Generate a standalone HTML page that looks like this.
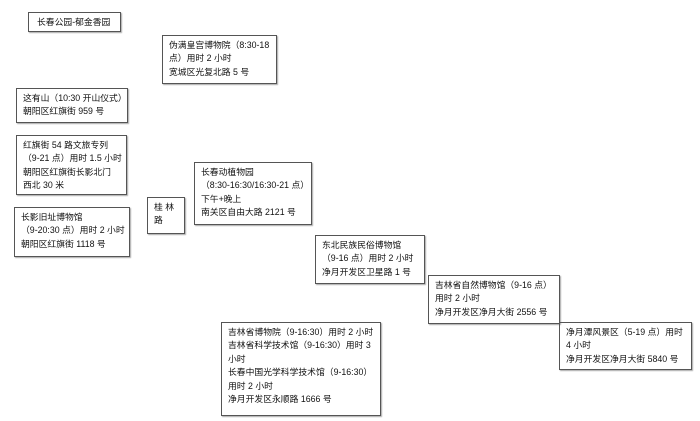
<!DOCTYPE html>
<html><head><meta charset="utf-8"><style>
body{margin:0;width:700px;height:421px;background:#fff;position:relative;overflow:hidden;font-family:"Liberation Sans","Noto Sans CJK SC",sans-serif;}
.b{position:absolute;box-sizing:border-box;border:1px solid #555;box-shadow:1px 1px 1px #aaa;font-size:8.8px;line-height:13.4px;color:#111;padding:3px 0 0 6px;white-space:nowrap;overflow:hidden;}
</style></head><body>
<div class="b" style="left:28px;top:12px;width:93px;height:20px;padding-top:3px;padding-left:8px">长春公园-郁金香园</div>
<div class="b" style="left:162px;top:35px;width:115px;height:49px">伪满皇宫博物院（8:30-18<br>点）用时 2 小时<br>宽城区光复北路 5 号</div>
<div class="b" style="left:16px;top:88px;width:112px;height:35px">这有山（10:30 开山仪式）<br>朝阳区红旗街 959 号</div>
<div class="b" style="left:16px;top:135px;width:111px;height:60px">红旗街 54 路文旅专列<br>（9-21 点）用时 1.5 小时<br>朝阳区红旗街长影北门<br>西北 30 米</div>
<div class="b" style="left:14px;top:207px;width:116px;height:50px">长影旧址博物馆<br>（9-20:30 点）用时 2 小时<br>朝阳区红旗街 1118 号</div>
<div class="b" style="left:147px;top:197px;width:38px;height:37px;padding-left:6px">桂 林<br>路</div>
<div class="b" style="left:194px;top:162px;width:118px;height:63px">长春动植物园<br>（8:30-16:30/16:30-21 点）<br>下午+晚上<br>南关区自由大路 2121 号</div>
<div class="b" style="left:315px;top:235px;width:110px;height:49px">东北民族民俗博物馆<br>（9-16 点）用时 2 小时<br>净月开发区卫星路 1 号</div>
<div class="b" style="left:428px;top:275px;width:132px;height:49px">吉林省自然博物馆（9-16 点）<br>用时 2 小时<br>净月开发区净月大街 2556 号</div>
<div class="b" style="left:559px;top:322px;width:133px;height:48px">净月潭风景区（5-19 点）用时<br>4 小时<br>净月开发区净月大街 5840 号</div>
<div class="b" style="left:221px;top:322px;width:160px;height:94px">吉林省博物院（9-16:30）用时 2 小时<br>吉林省科学技术馆（9-16:30）用时 3<br>小时<br>长春中国光学科学技术馆（9-16:30）<br>用时 2 小时<br>净月开发区永顺路 1666 号</div>
</body></html>
